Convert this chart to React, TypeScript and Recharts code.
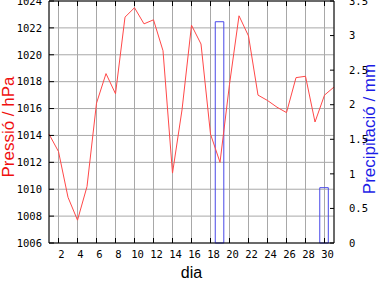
import { ComposedChart, Line, Bar, XAxis, YAxis, CartesianGrid } from "recharts";

const days = [
  1, 2, 3, 4, 5, 6, 7, 8, 9, 10, 11, 12, 13, 14, 15, 16, 17, 18, 19, 20, 21, 22, 23, 24, 25, 26,
  27, 28, 29, 30, 31,
];
const pressure = [
  1014.1, 1012.8, 1009.4, 1007.7, 1010.2, 1016.4, 1018.6, 1017.1, 1022.8, 1023.5, 1022.3, 1022.6,
  1020.3, 1011.2, 1015.9, 1022.2, 1020.8, 1014.1, 1012.0, 1017.8, 1022.9, 1021.4, 1017.0, 1016.6,
  1016.1, 1015.7, 1018.3, 1018.4, 1015.0, 1017.0, 1017.6,
];
const precipitation = [
  0, 0, 0, 0, 0, 0, 0, 0, 0, 0, 0, 0, 0, 0, 0, 0, 0, 0, 3.2, 0, 0, 0, 0, 0, 0, 0, 0, 0, 0, 0.8, 0,
];
const dayTicks = [2, 4, 6, 8, 10, 12, 14, 16, 18, 20, 22, 24, 26, 28, 30];
const pressureTicks = [1006, 1008, 1010, 1012, 1014, 1016, 1018, 1020, 1022, 1024];
const precipTicks = [0, 0.5, 1, 1.5, 2, 2.5, 3, 3.5];

const data = days.map((day, i) => ({
  day,
  pressure: pressure[i],
  precip: precipitation[i],
}));

const tickFont = { fontFamily: "DejaVu Sans Mono", fontSize: 10.5, fill: "#000" };
const titleFont = "Liberation Sans, Arial, sans-serif";

function LeftTitle(props: any) {
  const { viewBox } = props;
  const x = viewBox.x + 13.5;
  const y = viewBox.y + viewBox.height / 2 + 5;
  return (
    <text
      x={x}
      y={y}
      transform={`rotate(-90 ${x} ${y})`}
      textAnchor="middle"
      fontFamily={titleFont}
      fontSize={17}
      fill="#f01010"
    >
      Pressió / hPa
    </text>
  );
}

function RightTitle(props: any) {
  const { viewBox } = props;
  const x = viewBox.x + 41;
  const y = viewBox.y + viewBox.height / 2 + 7;
  return (
    <g>
      <rect x={x - 16} y={y - 68} width={21} height={136} fill="#fff" />
      <text
        x={x}
        y={y}
        transform={`rotate(-90 ${x} ${y})`}
        textAnchor="middle"
        fontFamily={titleFont}
        fontSize={17}
        fill="#1c1ce6"
      >
        Precipitació / mm
      </text>
    </g>
  );
}

function BottomTitle(props: any) {
  const { viewBox } = props;
  return (
    <text
      x={viewBox.x + viewBox.width / 2}
      y={viewBox.y + 35}
      textAnchor="middle"
      fontFamily={titleFont}
      fontSize={16}
      fill="#000"
    >
      dia
    </text>
  );
}

export default function App() {
  return (
    <div style={{ position: "absolute", left: 0, top: 0, background: "#fff" }}>
      <ComposedChart
        width={384}
        height={288}
        data={data}
        margin={{ top: 0, right: 0, bottom: 0, left: 0 }}
      >
        <CartesianGrid yAxisId="left" stroke="#a8a8a8" strokeWidth={1} />
        <XAxis
          dataKey="day"
          type="number"
          domain={[1, 31]}
          ticks={dayTicks}
          interval={0}
          height={45}
          stroke="#000"
          tickSize={-5}
          tickMargin={13}
          tick={{ ...tickFont, dx: 3 }}
          label={<BottomTitle />}
        />
        <XAxis
          xAxisId="top"
          orientation="top"
          dataKey="day"
          type="number"
          domain={[1, 31]}
          ticks={dayTicks}
          interval={0}
          height={1}
          stroke="#000"
          tickSize={-5}
          tickFormatter={() => ""}
        />
        <YAxis
          yAxisId="left"
          domain={[1006, 1024]}
          ticks={pressureTicks}
          interval={0}
          width={49}
          stroke="#000"
          tickSize={-5}
          tickMargin={12}
          tick={tickFont}
          label={<LeftTitle />}
        />
        <YAxis
          yAxisId="right"
          orientation="right"
          domain={[0, 3.5]}
          ticks={precipTicks}
          interval={0}
          width={50}
          stroke="#000"
          tickSize={-4}
          tickMargin={19}
          tick={tickFont}
          label={<RightTitle />}
        />
        <Bar
          yAxisId="right"
          dataKey="precip"
          fill="none"
          stroke="#4848e8"
          strokeWidth={1}
          barSize={10}
          isAnimationActive={false}
        />
        <Line
          yAxisId="left"
          type="linear"
          dataKey="pressure"
          stroke="#ff4848"
          strokeWidth={1}
          dot={false}
          activeDot={false}
          isAnimationActive={false}
        />
      </ComposedChart>
    </div>
  );
}
